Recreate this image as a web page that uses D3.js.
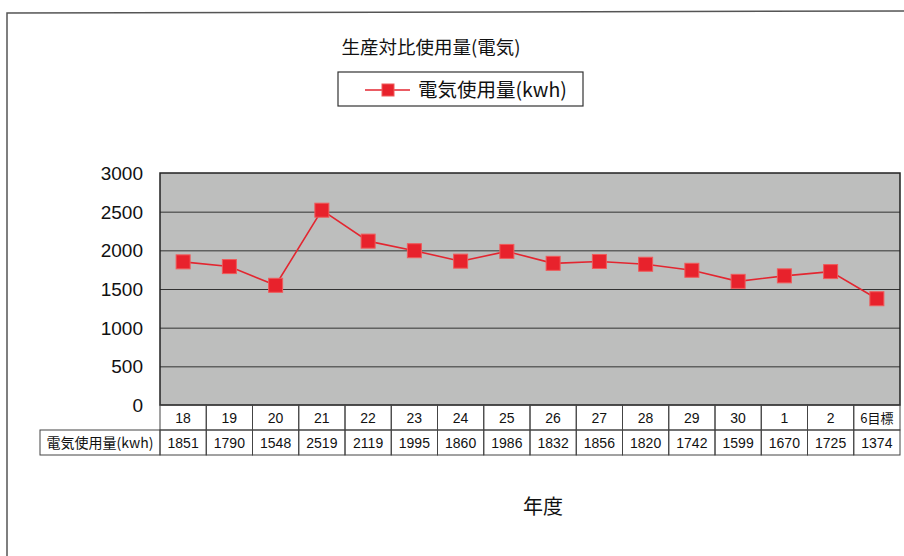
<!DOCTYPE html>
<html>
<head>
<meta charset="utf-8">
<style>
  body { margin:0; background:#fff; }
  svg { display:block; font-family:"Liberation Sans",Arial,sans-serif; }
  .jp { font-family:"Noto Sans CJK JP","Noto Sans",sans-serif; }
  .grid line { stroke:#333; stroke-width:1; }
  .grid path { display:none; }
  .yaxis path, .yaxis line { display:none; }
  .yaxis text { font-size:19px; fill:#111; font-family:"Liberation Sans",Arial,sans-serif; }
  .cell { fill:none; stroke:#444; stroke-width:1; }
  .tbl text { font-size:14px; fill:#111; }
  .series { fill:none; stroke:#e32630; stroke-width:1.6; }
  .marker { fill:#e8222c; stroke:#f05a5a; stroke-width:1; }
</style>
</head>
<body>
<svg width="904" height="556"></svg>
<script src="https://cdn.jsdelivr.net/npm/d3@7"></script>
<script>
  // data
  var years = ["18","19","20","21","22","23","24","25","26","27","28","29","30","1","2","6目標"]
  var usage = [1851,1790,1548,2519,2119,1995,1860,1986,1832,1856,1820,1742,1599,1670,1725,1374]
  var yTicks = [0,500,1000,1500,2000,2500,3000]
  var titleText = "生産対比使用量(電気)"
  var seriesName = "電気使用量(kwh)"
  var xTitle = "年度"

  var svg = d3.select("svg")
  var plot = {left:160, right:900, top:173, bottom:405}
  var rowH = 25, labelLeft = 40

  var x = d3.scaleBand().domain(years).range([plot.left, plot.right])
  var y = d3.scaleLinear().domain([0,3000]).range([plot.bottom, plot.top])

  // outer frame (only top and left edges show in the scan)
  svg.append("path")
    .attr("d","M7,556 L7,13 L904,11")
    .attr("fill","none").attr("stroke","#555").attr("stroke-width",1.5)

  // title
  svg.append("text").attr("class","jp")
    .attr("x",431).attr("y",54).attr("text-anchor","middle")
    .attr("font-size",18.5).attr("fill","#111")
    .text(titleText)

  // legend
  var lg = svg.append("g")
  lg.append("rect").attr("x",338).attr("y",72).attr("width",245).attr("height",34)
    .attr("fill","#fff").attr("stroke","#333").attr("stroke-width",1.2)
  lg.append("line").attr("class","series").attr("x1",365).attr("x2",410).attr("y1",90).attr("y2",90)
  lg.append("rect").attr("class","marker").attr("x",382).attr("y",84).attr("width",12).attr("height",12)
  lg.append("text").attr("class","jp").attr("x",418).attr("y",97)
    .attr("font-size",19.5).attr("fill","#111").text(seriesName)

  // plot background
  svg.append("rect")
    .attr("x",plot.left).attr("y",plot.top)
    .attr("width",plot.right-plot.left).attr("height",plot.bottom-plot.top)
    .attr("fill","#bdbebd")

  // gridlines
  svg.append("g").attr("class","grid")
    .attr("transform","translate("+plot.left+",0)")
    .call(d3.axisRight(y).tickValues(yTicks.slice(1,-1)).tickSize(plot.right-plot.left).tickFormat(""))

  svg.append("rect")
    .attr("x",plot.left).attr("y",plot.top)
    .attr("width",plot.right-plot.left).attr("height",plot.bottom-plot.top)
    .attr("fill","none").attr("stroke","#222").attr("stroke-width",1.5)

  // y axis labels
  svg.append("g").attr("class","yaxis")
    .attr("transform","translate("+(plot.left-4)+",0)")
    .call(d3.axisLeft(y).tickValues(yTicks).tickSize(0).tickPadding(13).tickFormat(d3.format("d")))
    .selectAll("text").attr("dy","0.35em")

  // series
  var line = d3.line()
    .x(function(d,i){ return x(years[i]) + x.bandwidth()/2 })
    .y(function(d){ return y(d) })

  svg.append("path").datum(usage).attr("class","series").attr("d",line)

  svg.selectAll(".marker.pt").data(usage).enter().append("rect")
    .attr("class","marker pt")
    .attr("x",function(d,i){ return x(years[i]) + x.bandwidth()/2 - 7 })
    .attr("y",function(d){ return y(d) - 7 })
    .attr("width",14).attr("height",14)

  // data table under the axis
  var tbl = svg.append("g").attr("class","tbl")
  tbl.selectAll(".hcell").data(years).enter().append("rect")
    .attr("class","cell")
    .attr("x",function(d){ return x(d) }).attr("y",plot.bottom)
    .attr("width",x.bandwidth()).attr("height",rowH)
  tbl.selectAll(".dcell").data(years).enter().append("rect")
    .attr("class","cell")
    .attr("x",function(d){ return x(d) }).attr("y",plot.bottom+rowH)
    .attr("width",x.bandwidth()).attr("height",rowH)
  tbl.append("rect").attr("class","cell")
    .attr("x",labelLeft).attr("y",plot.bottom+rowH)
    .attr("width",plot.left-labelLeft).attr("height",rowH)

  tbl.selectAll(".yr").data(years).enter().append("text")
    .attr("class",function(d){ return /[^0-9]/.test(d) ? "jp" : null })
    .attr("x",function(d){ return x(d)+x.bandwidth()/2 })
    .attr("y",plot.bottom+rowH/2+5)
    .attr("text-anchor","middle")
    .style("font-size",function(d){ return /[^0-9]/.test(d) ? "13px" : "14px" })
    .text(function(d){ return d })

  tbl.selectAll(".val").data(usage).enter().append("text")
    .attr("x",function(d,i){ return x(years[i])+x.bandwidth()/2 })
    .attr("y",plot.bottom+rowH*1.5+5)
    .attr("text-anchor","middle")
    .text(function(d){ return d })

  tbl.append("text").attr("class","jp")
    .attr("x",(labelLeft+plot.left)/2).attr("y",plot.bottom+rowH*1.5+5)
    .attr("text-anchor","middle").style("font-size","14px")
    .text(seriesName)

  // x title
  svg.append("text").attr("class","jp")
    .attr("x",543).attr("y",514).attr("text-anchor","middle")
    .attr("font-size",20).attr("fill","#111")
    .text(xTitle)
</script>
</body>
</html>
